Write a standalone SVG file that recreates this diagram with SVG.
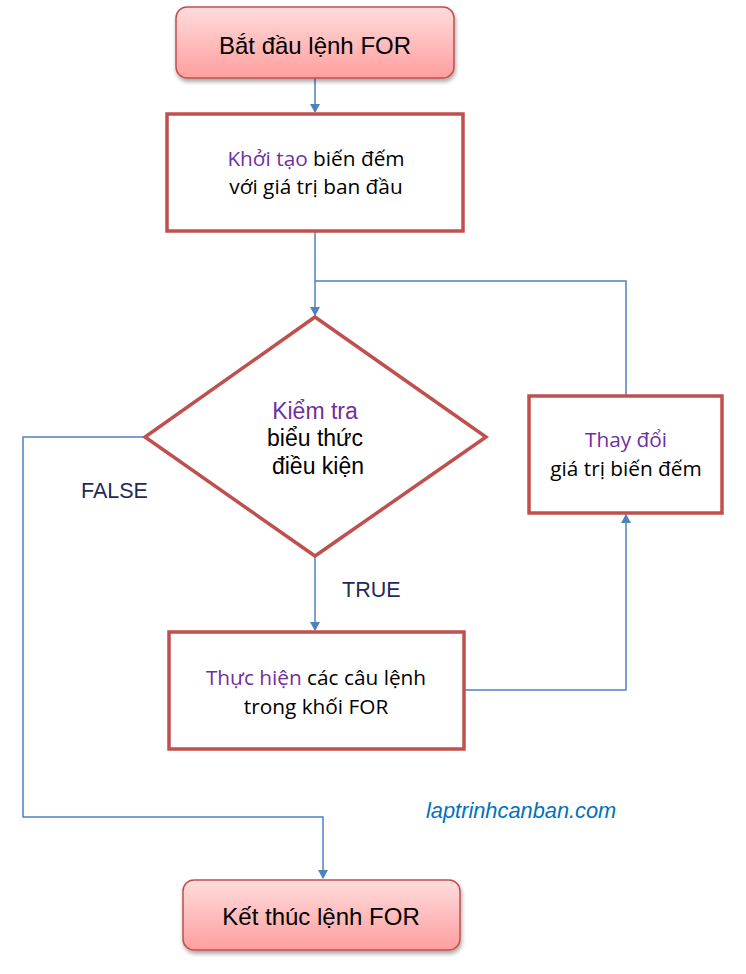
<svg xmlns="http://www.w3.org/2000/svg" width="746" height="974" viewBox="0 0 746 974">
<defs>
<linearGradient id="pink" x1="0" y1="0" x2="0" y2="1">
<stop offset="0" stop-color="#ffdcdc"/>
<stop offset="1" stop-color="#ff9e9e"/>
</linearGradient>
<filter id="sh" x="-10%" y="-10%" width="130%" height="140%">
<feGaussianBlur in="SourceAlpha" stdDeviation="2"/>
<feOffset dx="1" dy="3" result="b"/>
<feComponentTransfer><feFuncA type="linear" slope="0.35"/></feComponentTransfer>
<feMerge><feMergeNode/><feMergeNode in="SourceGraphic"/></feMerge>
</filter>
<marker id="arr" markerWidth="10" markerHeight="10" refX="8" refY="5" orient="auto" markerUnits="userSpaceOnUse">
<path d="M0,0 L9,5 L0,10 Z" fill="#4f81bd"/>
</marker>
</defs>
<style>
.term{fill:url(#pink);stroke:#c0504d;stroke-width:1.5;filter:url(#sh)}
.box{fill:#fff;stroke:#c0504d;stroke-width:3.5}
.t{font-family:"Liberation Sans",Arial,sans-serif;fill:#000;text-anchor:middle}
.c{font-family:"Open Sans","Noto Sans",sans-serif;fill:#000;text-anchor:middle;font-size:20.8px}
.p{fill:#7030a0}
.ln{fill:none;stroke:#4f81bd;stroke-width:1.5}
.lbl{font-family:"Liberation Sans",Arial,sans-serif;fill:#1f2a5c;font-size:21.5px}
</style>
<g id="connectors">
<path class="ln" d="M315,78 V112" marker-end="url(#arr)"/>
<path class="ln" d="M315,231 V315" marker-end="url(#arr)"/>
<path class="ln" d="M626,396 V281 H315"/>
<path class="ln" d="M315,556 V630" marker-end="url(#arr)"/>
<path class="ln" d="M464,690 H626 V515" marker-end="url(#arr)"/>
<path class="ln" d="M145,437 H23 V817 H323 V878" marker-end="url(#arr)"/>
<text class="lbl" x="81" y="498">FALSE</text>
<text class="lbl" x="342" y="597">TRUE</text>
</g>
<g id="start">
<rect class="term" x="176" y="7" width="278" height="71" rx="11"/>
<text class="t" x="315" y="54" font-size="24">Bắt đầu lệnh FOR</text>
</g>
<g id="init">
<rect class="box" x="167" y="114" width="296" height="117"/>
<text class="c" x="316" y="166"><tspan class="p">Khởi tạo</tspan> biến đếm</text>
<text class="c" x="316" y="194">với giá trị ban đầu</text>
</g>
<g id="check">
<polygon class="box" points="315,317 486,437 315,556 145,437"/>
<text class="t p" x="315" y="419" font-size="23">Kiểm tra</text>
<text class="t" x="315" y="446" font-size="23">biểu thức</text>
<text class="t" x="318" y="474" font-size="23">điều kiện</text>
</g>
<g id="update">
<rect class="box" x="529" y="396" width="193" height="117"/>
<text class="c" x="626" y="447"><tspan class="p">Thay đổi</tspan></text>
<text class="c" x="626" y="476">giá trị biến đếm</text>
</g>
<g id="body">
<rect class="box" x="169" y="632" width="295" height="117"/>
<text class="c" x="316" y="685"><tspan class="p">Thực hiện</tspan> các câu lệnh</text>
<text class="c" x="316" y="714">trong khối FOR</text>
</g>
<g id="end">
<rect class="term" x="183" y="880" width="277" height="70" rx="11"/>
<text class="t" x="321" y="925" font-size="24">Kết thúc lệnh FOR</text>
</g>
<text x="426" y="818" font-family="'Liberation Sans',Arial,sans-serif" font-style="italic" font-size="21.8" fill="#0070c0">laptrinhcanban.com</text>
</svg>
